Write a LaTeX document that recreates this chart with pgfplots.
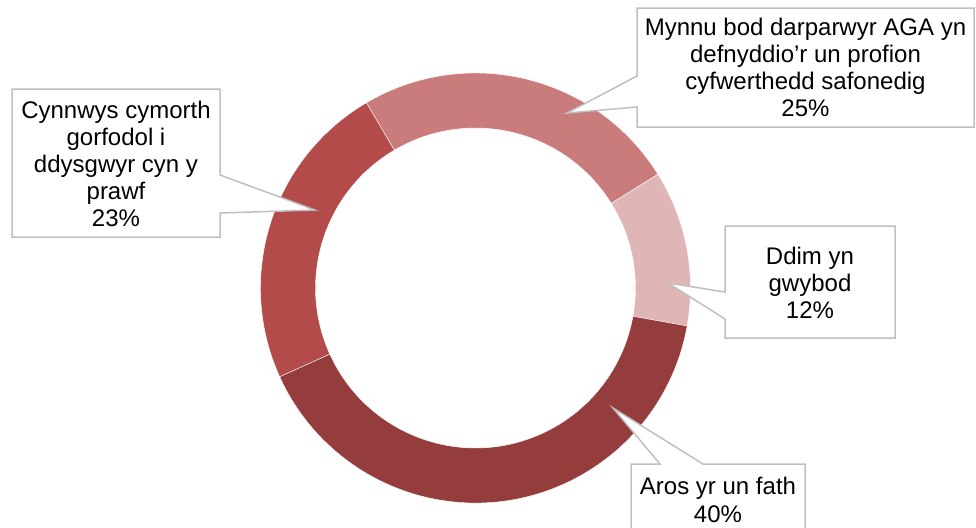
\documentclass[border=0pt]{standalone}
\usepackage{pgfplots}
\pgfplotsset{compat=1.18}
\usepackage{pgfplotstable}
\usepackage{fontspec}
\setmainfont{Liberation Sans}

\definecolor{seg0}{HTML}{C97C7B}
\definecolor{seg1}{HTML}{DFB5B5}
\definecolor{seg2}{HTML}{953C3C}
\definecolor{seg3}{HTML}{B24B4A}
\definecolor{callout}{HTML}{BFBFBF}

% shares read off the ring, clockwise from the top-left boundary
\pgfplotstableread{
name value
Mynnu 24.6
Ddim 11.7
Aros 40.4
Cynnwys 23.3
}\donut

\begin{document}
\begin{tikzpicture}
% start/end angles of every segment
\xdef\cum{120.5}
\foreach \i in {0,...,3}{
  \pgfplotstablegetelem{\i}{value}\of\donut
  \pgfmathsetmacro{\nxt}{\cum-3.6*\pgfplotsretval}
  \expandafter\xdef\csname s\i\endcsname{\cum}
  \expandafter\xdef\csname e\i\endcsname{\nxt}
  \xdef\cum{\nxt}
}
\begin{axis}[
    x=0.5pt, y=0.5pt,
    xmin=0, xmax=976,
    ymin=0, ymax=527,
    y dir=reverse,
    hide axis,
    clip=false,
]
    % ring
    \pgfplotsinvokeforeach{0,...,3}{
      \fill[seg#1, draw=white, line width=0.2pt] (axis cs:475.5,288) ++(\csname s#1\endcsname:107.5pt)
        arc[start angle=\csname s#1\endcsname, end angle=\csname e#1\endcsname, radius=107.5pt]
        -- ++(\csname e#1\endcsname:-27.5pt)
        arc[start angle=\csname e#1\endcsname, end angle=\csname s#1\endcsname, radius=80pt]
        -- cycle;
    }

    % callouts
    \tikzset{co/.style={fill=white, draw=callout, line width=0.75pt, line join=miter},
             lbl/.style={align=center, inner sep=0pt, font=\fontsize{12}{13.6}\selectfont}}

    \path[co] (axis cs:12,89) -- (axis cs:220,89) -- (axis cs:220,175) -- (axis cs:315,210)
      -- (axis cs:220,213) -- (axis cs:220,237) -- (axis cs:12,237) -- cycle;
    \node[lbl] at (axis cs:116,164) {Cynnwys cymorth\\gorfodol i\\ddysgwyr cyn y\\prawf\\23\%};

    \path[co] (axis cs:637,8) -- (axis cs:974,8) -- (axis cs:974,127) -- (axis cs:637,127)
      -- (axis cs:637,107) -- (axis cs:567,113) -- (axis cs:637,76) -- cycle;
    \node[lbl] at (axis cs:805.5,67.5) {Mynnu bod darparwyr AGA yn\\defnyddio’r un profion\\cyfwerthedd safonedig\\25\%};

    \path[co] (axis cs:725,226) -- (axis cs:895,226) -- (axis cs:895,338) -- (axis cs:725,338)
      -- (axis cs:725,319) -- (axis cs:668,283) -- (axis cs:725,292) -- cycle;
    \node[lbl] at (axis cs:810,283) {Ddim yn\\gwybod\\12\%};

    \fill[white] (axis cs:631,464) -- (axis cs:660,464) -- (axis cs:613,408) -- (axis cs:703,464)
      -- (axis cs:805,464) -- (axis cs:805,527) -- (axis cs:631,527) -- cycle;
    \draw[callout, line width=0.75pt, line join=miter] (axis cs:631,530) -- (axis cs:631,464) -- (axis cs:660,464)
      -- (axis cs:613,408) -- (axis cs:703,464) -- (axis cs:805,464) -- (axis cs:805,530);
    \node[lbl] at (axis cs:718,500) {Aros yr un fath\\40\%};
\end{axis}
\pgfresetboundingbox
\useasboundingbox (current axis.south west) rectangle (current axis.north east);
\end{tikzpicture}
\end{document}
